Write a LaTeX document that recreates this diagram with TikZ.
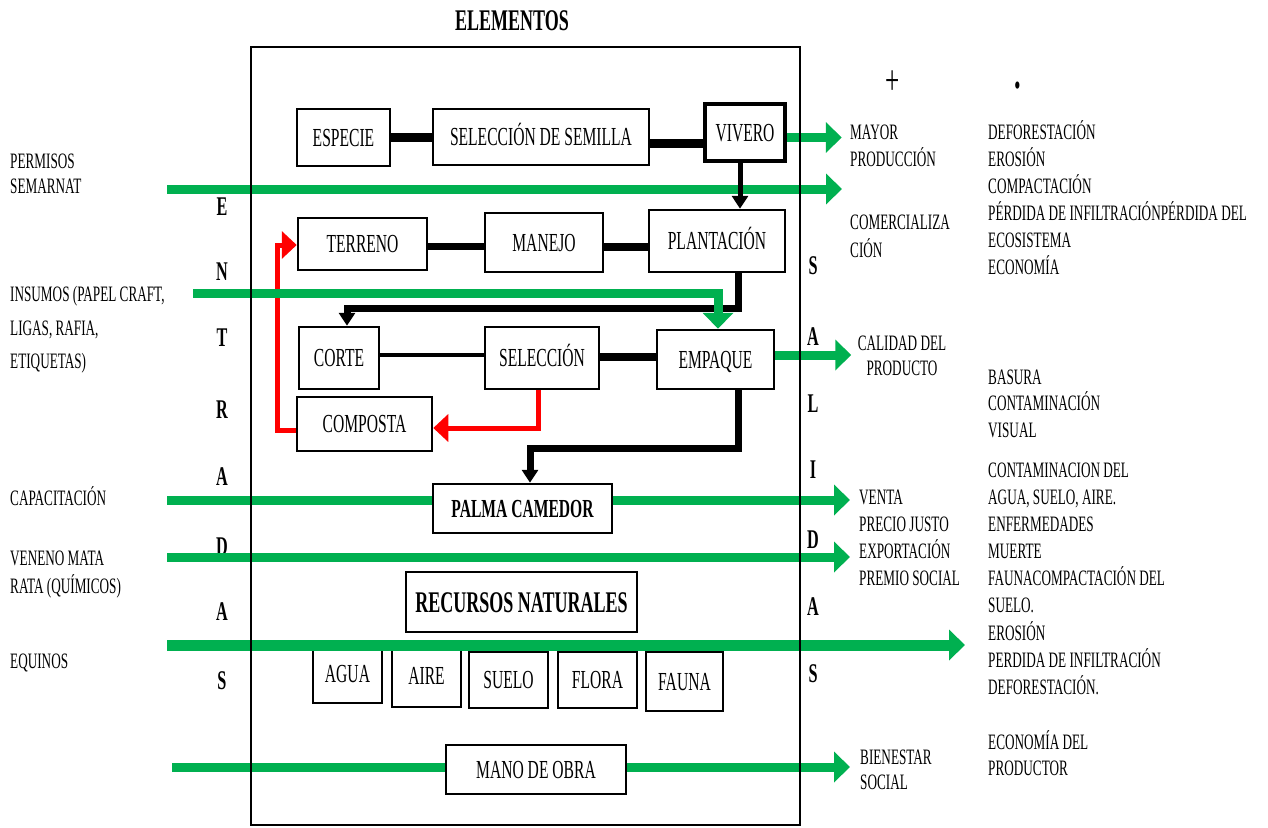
\documentclass[tikz,border=0pt]{standalone}
\usepackage{fontspec}
\setmainfont{Liberation Serif}[FakeStretch=0.6]
\usetikzlibrary{arrows.meta}
\definecolor{grn}{RGB}{0,176,80}
\definecolor{rd}{RGB}{255,0,0}
\newcommand{\mystrut}{\rule{0pt}{20pt}}
\begin{document}
\begin{tikzpicture}[x=1pt,y=-1pt,
  box/.style={draw, line width=2.5pt, fill=white, inner sep=0pt, text height=17.5pt, text depth=0pt, font=\fontsize{26}{28}\selectfont},
  bbox/.style={box, font=\bfseries\fontsize{26}{28}\selectfont},
  side/.style={inner sep=0pt, align=left, anchor=north west, font=\fontsize{22}{27}\selectfont},
  letter/.style={inner sep=0pt, font=\bfseries\fontsize{27}{29}\selectfont},
  grnline/.style={draw=grn, line width=9pt},
  grnarrow/.style={grnline, -{Triangle[length=16pt,width=30pt]}},
  blkline/.style={draw=black, line width=9pt},
  blkarrow/.style={draw=black, line width=5pt, -{Triangle[length=13pt,width=16pt]}},
  redarrow/.style={draw=rd, line width=5pt, -{Triangle[length=15pt,width=27pt]}},
]
\useasboundingbox (0,0) rectangle (1268,827);

% title
\node[inner sep=0pt, font=\bfseries\fontsize{30}{32}\selectfont] (titulo) at (512,21) {ELEMENTOS};

% boxes
\node[box, minimum width=93pt, minimum height=57pt] (especie) at (343.5,137.5) {ESPECIE};
\node[box, minimum width=216pt, minimum height=56pt] (selsem) at (541,137) {SELECCIÓN DE SEMILLA};
\node[box, line width=3.5pt, minimum width=80pt, minimum height=57pt] (vivero) at (745,132.5) {VIVERO};
\node[box, minimum width=129pt, minimum height=52pt] (terreno) at (362.5,244) {TERRENO};
\node[box, minimum width=118pt, minimum height=59pt] (manejo) at (544,242.5) {MANEJO};
\node[box, minimum width=136pt, minimum height=62pt] (plantacion) at (717,241) {PLANTACIÓN};
\node[box, minimum width=80pt, minimum height=62pt] (corte) at (339,358) {CORTE};
\node[box, minimum width=114pt, minimum height=62pt] (seleccion) at (542,358) {SELECCIÓN};
\node[box, minimum width=117pt, minimum height=59pt] (empaque) at (715.5,359.5) {EMPAQUE};
\node[box, minimum width=135pt, minimum height=54pt] (composta) at (364.5,424) {COMPOSTA};
\node[bbox, minimum width=179pt, minimum height=49pt] (palma) at (522.5,508.5) {PALMA CAMEDOR};
\node[box, minimum width=231pt, minimum height=60pt, font=\bfseries\fontsize{30}{32}\selectfont, text height=20pt] (recursos) at (521.5,602) {RECURSOS NATURALES};
\node[box, minimum width=69pt, minimum height=58pt] (agua) at (347.5,674) {AGUA};
\node[box, minimum width=69pt, minimum height=62pt] (aire) at (426.5,676) {AIRE};
\node[box, minimum width=79pt, minimum height=56pt] (suelo) at (508.5,680) {SUELO};
\node[box, minimum width=79pt, minimum height=56pt] (flora) at (597.5,680) {FLORA};
\node[box, minimum width=77pt, minimum height=59pt] (fauna) at (684.5,681.5) {FAUNA};
\node[box, minimum width=180pt, minimum height=49pt] (mano) at (536,769.5) {MANO DE OBRA};

% ENTRADAS / SALIDAS letters
\foreach \l/\y [count=\i] in {E/207,N/272,T/338,R/410,A/477,D/547,A/612,S/681}
  \node[letter] (ent\i) at (222,\y) {\l};
\foreach \l/\y [count=\i] in {S/266,A/337,L/404,I/470,D/540,A/607,S/674}
  \node[letter] (sal\i) at (813,\y) {\l};

% left labels
\node[side, font=\fontsize{22}{25}\selectfont] (permisos) at (10,148.5) {\mystrut PERMISOS\\SEMARNAT};
\node[side, font=\fontsize{22}{33.5}\selectfont] (insumos) at (10,281.5) {\mystrut INSUMOS (PAPEL CRAFT,\\LIGAS, RAFIA,\\ETIQUETAS)};
\node[side] (capacitacion) at (10,485.5) {\mystrut CAPACITACIÓN};
\node[side, font=\fontsize{22}{28}\selectfont] (veneno) at (10,545.5) {\mystrut VENENO MATA\\RATA (QUÍMICOS)};
\node[side] (equinos) at (10,648.5) {\mystrut EQUINOS};

% right labels (+)
\node[inner sep=0pt, font=\fontsize{42}{44}\selectfont] (mas) at (893,83) {+};
\node[inner sep=0pt, font=\bfseries\fontsize{44}{46}\selectfont] (menos) at (1018,86) {.};
\node[side] (mayor) at (850,119.2) {\mystrut MAYOR\\PRODUCCIÓN};
\node[side, font=\fontsize{22}{28}\selectfont] (comercial) at (850,209.2) {\mystrut COMERCIALIZA\\CIÓN};
\node[side, align=center, anchor=north, font=\fontsize{22}{25}\selectfont] (calidad) at (902,330.2) {\mystrut CALIDAD DEL\\PRODUCTO};
\node[side] (venta) at (859,484.2) {\mystrut VENTA\\PRECIO JUSTO\\EXPORTACIÓN\\PREMIO SOCIAL};
\node[side, font=\fontsize{22}{25}\selectfont] (bienestar) at (860,744.2) {\mystrut BIENESTAR\\SOCIAL};

% right labels (-)
\node[side] (neg1) at (988,119.2) {\mystrut DEFORESTACIÓN\\EROSIÓN\\COMPACTACIÓN\\PÉRDIDA DE INFILTRACIÓNPÉRDIDA DEL\\ECOSISTEMA\\ECONOMÍA};
\node[side, font=\fontsize{22}{26.5}\selectfont] (neg2) at (988,364.2) {\mystrut BASURA\\CONTAMINACIÓN\\VISUAL};
\node[side, font=\fontsize{22}{27.1}\selectfont] (neg3) at (988,457.2) {\mystrut CONTAMINACION DEL\\AGUA, SUELO, AIRE.\\ENFERMEDADES\\MUERTE\\FAUNACOMPACTACIÓN DEL\\SUELO.\\EROSIÓN\\PERDIDA DE INFILTRACIÓN\\DEFORESTACIÓN.};
\node[side, font=\fontsize{22}{26}\selectfont] (neg4) at (988,729.2) {\mystrut ECONOMÍA DEL\\PRODUCTOR};

% free ends of the green lines and bends
\coordinate (inPermisos) at (167,189);
\coordinate (outPermisos) at (842,189);
\coordinate (inInsumos) at (193,293);
\coordinate (inCapac) at (167,500);
\coordinate (outCapac) at (850,500);
\coordinate (inVeneno) at (167,557);
\coordinate (outVeneno) at (850,557);
\coordinate (inEquinos) at (167,645);
\coordinate (outEquinos) at (965,645);
\coordinate (inMano) at (172,767);
\coordinate (outMano) at (850,767);
\coordinate (bendA) at (347,308);
\coordinate (bendB) at (530,448);
\coordinate (bendR) at (277,245);

\draw[grnarrow] (inPermisos) -- (outPermisos);

% black connectors
\draw[blkline] (especie.east) -- (especie.east -| selsem.west);
\draw[blkline] ([yshift=-6pt]selsem.east) -- ([yshift=-6pt]selsem.east -| vivero.west);
\draw[blkline, line width=7pt] ([yshift=-2pt]terreno.east) -- ([yshift=-2pt]terreno.east -| manejo.west);
\draw[blkline, line width=8pt] ([yshift=-4.5pt]manejo.east) -- ([yshift=-4.5pt]manejo.east -| plantacion.west);
\draw[blkline, line width=4pt] ([yshift=3pt]corte.east) -- ([yshift=3pt]corte.east -| seleccion.west);
\draw[blkline, line width=8pt] ([yshift=1pt]seleccion.east) -- ([yshift=1pt]seleccion.east -| empaque.west);

\draw[blkarrow] ([xshift=-5pt]vivero.south) -- ([xshift=-5pt]vivero.south |- plantacion.north);
\draw[blkarrow, line width=7pt] ([xshift=21pt]plantacion.south) |- (bendA) -- ([xshift=8pt]corte.north);
\draw[blkarrow, line width=7pt] ([xshift=22.5pt]empaque.south) |- (bendB) -- ([xshift=7.5pt]palma.north);

% red connectors
\draw[redarrow] ([xshift=-4pt]seleccion.south) |- ([yshift=-4pt]composta.east);
\draw[redarrow] ([yshift=-6pt]composta.west) -| (bendR) -- (terreno.west |- bendR);

% green connectors
\draw[grnarrow] ([yshift=-5pt]vivero.east) -- ++(55,0);
\draw[grnarrow] (inInsumos) -| ([xshift=2.5pt]empaque.north);
\draw[grnarrow] ([yshift=4.5pt]empaque.east) -- ++(76,0);
\draw[grnline] (inCapac) -- (palma.west |- inCapac);
\draw[grnarrow] (palma.east |- inCapac) -- (outCapac);
\draw[grnarrow] (inVeneno) -- (outVeneno);
\draw[grnarrow, line width=11pt] (inEquinos) -- (outEquinos);
\draw[grnline] (inMano) -- (mano.west |- inMano);
\draw[grnarrow] (mano.east |- inMano) -- (outMano);

% frame
\draw[line width=2pt] (251,47) rectangle (800,825);
\end{tikzpicture}
\end{document}
